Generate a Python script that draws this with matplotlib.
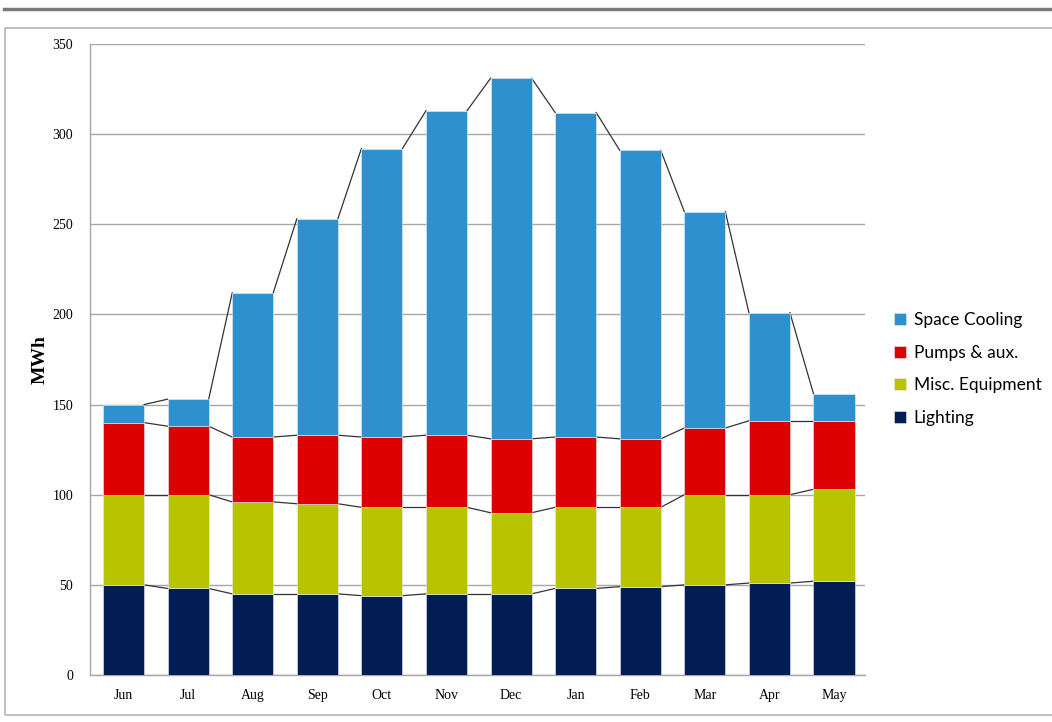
import matplotlib
matplotlib.use("Agg")
import matplotlib.pyplot as plt
from matplotlib.lines import Line2D
from matplotlib.patches import Rectangle
import numpy as np

months = ["Jun", "Jul", "Aug", "Sep", "Oct", "Nov", "Dec", "Jan", "Feb", "Mar", "Apr", "May"]

# MWh per month, per end use
lighting = [50, 48, 45, 45, 44, 45, 45, 48, 49, 50, 51, 52]
misc_equipment = [50, 52, 51, 50, 49, 48, 45, 45, 44, 50, 49, 51]
pumps_aux = [40, 38, 36, 38, 39, 40, 41, 39, 38, 37, 41, 38]
space_cooling = [10, 15, 80, 120, 160, 180, 200, 180, 160, 120, 60, 15]

series = [
    ("Lighting", lighting, "#011d53"),
    ("Misc. Equipment", misc_equipment, "#b8c400"),
    ("Pumps & aux.", pumps_aux, "#dd0000"),
    ("Space Cooling", space_cooling, "#2d90cf"),
]

W, H = 1052, 722
fig = plt.figure(figsize=(W / 100, H / 100), dpi=100)

# outer frame like the pasted Excel chart
fig.add_artist(Line2D([4 / W, 1], [1 - 9 / H, 1 - 9 / H], color="#7a7a7a", lw=2.5))
fig.add_artist(Rectangle((5 / W, 1 - 715 / H), 1.2, (715 - 28) / H, fill=False,
                         edgecolor="#b5b5b5", lw=1.2, transform=fig.transFigure))

ax = fig.add_axes([90 / W, 1 - 675 / H, (865 - 90) / W, (675 - 44) / H])

x = np.arange(len(months))
width = 0.635
bottom = np.zeros(len(months))
handles = []
for name, vals, color in series:
    vals = np.array(vals, dtype=float)
    b = ax.bar(x, vals, width, bottom=bottom, color=color, edgecolor="#e8eef5",
               linewidth=0.4, zorder=3, label=name)
    handles.append(b)
    top = bottom + vals
    # series lines between neighbouring bars
    for i in range(len(months) - 1):
        ax.plot([x[i] + width / 2, x[i + 1] - width / 2], [top[i], top[i + 1]],
                color="#333333", lw=0.9, zorder=2)
    bottom = top

ax.set_xlim(-0.52, 11.48)
ax.set_ylim(0, 350)
ax.set_yticks(range(0, 351, 50))
ax.yaxis.grid(True, color="#a6a6a6", lw=1.0, zorder=0)
ax.set_axisbelow(True)
for s in ["top", "right"]:
    ax.spines[s].set_visible(False)
for s in ["left", "bottom"]:
    ax.spines[s].set_color("#a6a6a6")
    ax.spines[s].set_linewidth(1.0)
ax.tick_params(length=0, pad=12)
ax.set_xticks(x)
ax.set_xticklabels(months, family="Liberation Serif", fontsize=10)
for lab in ax.get_yticklabels():
    lab.set_family("Liberation Serif")
    lab.set_fontsize(10)
ax.tick_params(axis="x", pad=10)
ax.set_ylabel("MWh", family="Liberation Serif", fontsize=14, fontweight="bold")
ax.yaxis.set_label_coords(-0.053, 0.5)

leg = fig.legend(handles[::-1], [h.get_label() for h in handles[::-1]],
                 loc="center left", bbox_to_anchor=(878 / W, 1 - 369 / H),
                 frameon=False, prop={"family": "Lato", "size": 12.5},
                 handlelength=0.7, handleheight=0.7, handletextpad=0.45,
                 labelspacing=0.95)

fig.savefig("out.png", dpi=100)
